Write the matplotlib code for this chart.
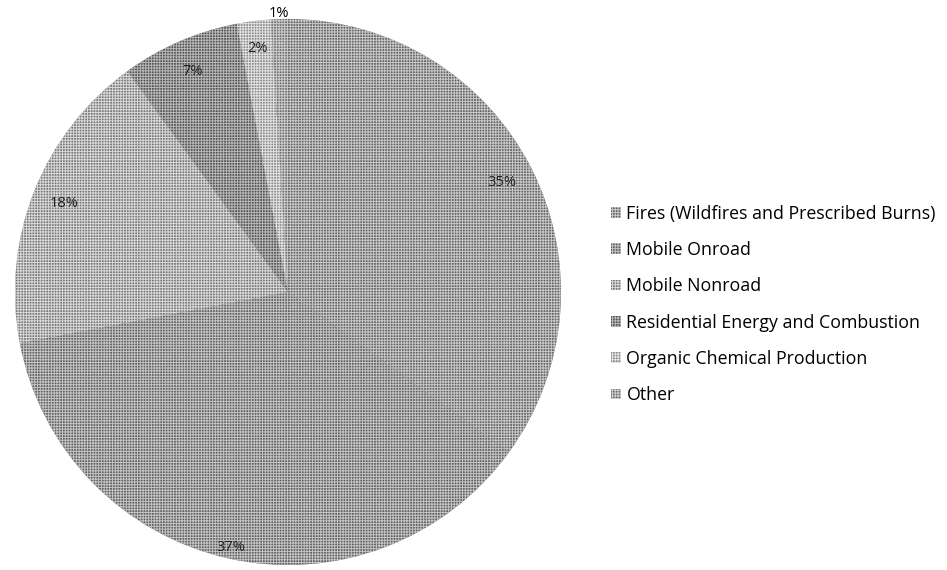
from matplotlib import pyplot as plt
import numpy as np

# data
labels = ["Fires (Wildfires and Prescribed Burns)", "Mobile Onroad", "Mobile Nonroad",
          "Residential Energy and Combustion", "Organic Chemical Production", "Other"]
shares = [35, 37, 18, 7, 2, 1]
pct_text = ["35%", "37%", "18%", "7%", "2%", "1%"]

# grey tones (the reference uses dithered grey patterns): face + light grid lines
faces = ["#666666", "#626262", "#7a7a7a", "#555555", "#8c8c8c", "#727272"]
hatch_cols = ["#c8c8c8", "#c4c4c4", "#d8d8d8", "#b8b8b8", "#e2e2e2", "#cccccc"]
label_dist = [0.88, 0.96, 0.88, 0.88, 0.9, 1.02]

plt.rcParams["font.family"] = ["Open Sans", "DejaVu Sans"]
plt.rcParams["hatch.linewidth"] = 0.7

fig = plt.figure(figsize=(9.47, 5.70), dpi=100)
ax = fig.add_axes([0.0158, 0.0088, 0.5766, 0.958])

wedges, _ = ax.pie(shares, startangle=90, counterclock=False, radius=1,
                   colors=faces, wedgeprops=dict(linewidth=0))
for w, hc in zip(wedges, hatch_cols):
    w.set_hatch("++++++")
    w.set_edgecolor(hc)
    w.set_linewidth(0)

# percentage labels
for w, txt, d in zip(wedges, pct_text, label_dist):
    ang = np.deg2rad((w.theta1 + w.theta2) / 2)
    col = "black" if d > 1 else "#222222"
    ax.text(d * np.cos(ang), d * np.sin(ang), txt, ha="center", va="center",
            fontsize=10.5, color=col)

ax.set_xlim(-1, 1)
ax.set_ylim(-1, 1)
ax.set_aspect("equal")
ax.axis("off")

# legend
handles = []
for f, hc in zip(faces, hatch_cols):
    p = plt.Rectangle((0, 0), 1, 1, facecolor=f, edgecolor=hc, hatch="++++++", linewidth=0)
    handles.append(p)
fig.legend(handles, labels, loc="center left", bbox_to_anchor=(0.638, 0.466),
           frameon=False, fontsize=12.8, handlelength=0.55, handleheight=0.55,
           handletextpad=0.3, labelspacing=1.03, borderaxespad=0)

fig.savefig("out.png", dpi=100)
